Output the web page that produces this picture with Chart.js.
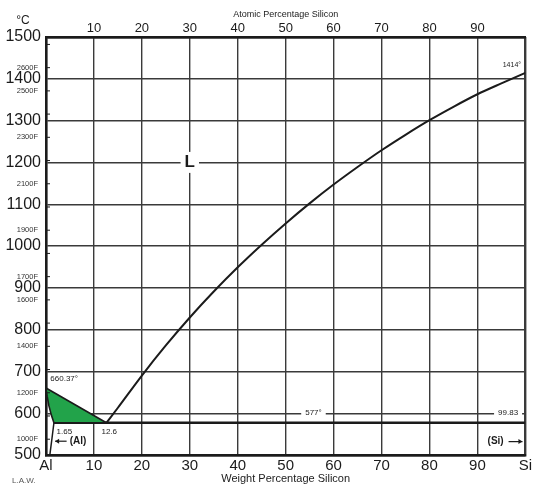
<!DOCTYPE html>
<html>
<head>
<meta charset="utf-8">
<script src="https://cdn.jsdelivr.net/npm/chart.js@4.4.1/dist/chart.umd.min.js"></script>
<style>
  html, body { margin: 0; padding: 0; background: #fff; }
  #wrap { width: 534px; height: 488px; }
</style>
</head>
<body>
<div id="wrap"><canvas id="phase"></canvas></div>
<script>
// Al-Si phase diagram

/* =========================
   DATA
========================= */

// liquidus, eutectic point up to pure Si
const liquidusWt = [12.6, 15, 20, 25, 30, 35, 40, 45, 50, 55, 60, 65, 70, 75, 80, 85, 90, 95, 100];
const liquidusT  = [577, 613, 690, 762, 829, 891, 949, 1003, 1054, 1102, 1147, 1189, 1229, 1266, 1301, 1333, 1363, 1389, 1414];

// (Al) solidus, melting point of Al down to max solubility
const solidusWt = [0, 0.25, 0.6, 1.1, 1.65];
const solidusT  = [660.37, 640, 618, 596, 577];

// (Al) solvus
const solvusWt = [1.65, 1.25, 0.8];
const solvusT  = [577, 540, 500];

// eutectic isotherm
const eutecticWt = [1.65, 100];
const eutecticT  = [577, 577];

// axes
const tempTicks   = [500, 600, 700, 800, 900, 1000, 1100, 1200, 1300, 1400, 1500];
const weightTicks = [0, 10, 20, 30, 40, 50, 60, 70, 80, 90, 100];
const atomicTicks = [10, 20, 30, 40, 50, 60, 70, 80, 90];
const fahrenheitTicks  = [1000, 1100, 1200, 1300, 1400, 1500, 1600, 1700, 1800, 1900, 2000, 2100, 2200, 2300, 2400, 2500, 2600, 2700];
const fahrenheitLabels = [1000, 1200, 1400, 1600, 1700, 1900, 2100, 2300, 2500, 2600];

/* =========================
   HELPERS
========================= */

const pts = (xs, ys) => xs.map((x, i) => ({ x: x, y: ys[i] }));

// L + (Al) region: solidus -> eutectic point -> liquidus back to Al
const twoPhase = [{ x: 0, y: 660.37 }, { x: 12.6, y: 577 }]
  .concat(pts(solidusWt, solidusT).reverse());

const INK = "#1b1b1b";
const GRID = "#3a3a3a";
const FONT = "'Liberation Sans', Arial, sans-serif";

/* =========================
   ANNOTATIONS
========================= */

const notes = [
  { text: "660.37°", x: 0.9, y: 682, size: 8, align: "left" },
  { text: "1.65", x: 2.2, y: 556, size: 8, align: "left" },
  { text: "12.6", x: 13.2, y: 556, size: 8, align: "center" },
  { text: "(Al)", x: 6.7, y: 533, size: 10, align: "center", bold: true },
  { text: "577°", x: 55.8, y: 600, size: 8, align: "center", box: true },
  { text: "99.83", x: 96.4, y: 600, size: 8, align: "center", box: true },
  { text: "(Si)", x: 93.8, y: 532, size: 10, align: "center", bold: true },
  { text: "1414°", x: 97.2, y: 1432, size: 7, align: "center" },
  { text: "L", x: 30, y: 1200, size: 17, align: "center", bold: true, box: true }
];

const extras = {
  id: "extras",
  afterDatasetsDraw(chart) {
    const { ctx, chartArea } = chart;
    const xs = chart.scales.x, ys = chart.scales.y;
    ctx.save();

    // fahrenheit ticks on the left axis
    ctx.strokeStyle = INK;
    ctx.lineWidth = 1;
    ctx.fillStyle = "#333";
    ctx.font = "7.5px " + FONT;
    ctx.textAlign = "right";
    ctx.textBaseline = "middle";
    fahrenheitTicks.forEach(f => {
      const c = (f - 32) * 5 / 9;
      if (c < 500 || c > 1500) return;
      const py = ys.getPixelForValue(c);
      ctx.beginPath();
      ctx.moveTo(chartArea.left, py);
      ctx.lineTo(chartArea.left + 4, py);
      ctx.stroke();
      if (fahrenheitLabels.includes(f)) ctx.fillText(f + "F", chartArea.left - 8, py);
    });

    // labels on the diagram
    notes.forEach(n => {
      const px = xs.getPixelForValue(n.x), py = ys.getPixelForValue(n.y);
      ctx.font = (n.bold ? "bold " : "") + n.size + "px " + FONT;
      ctx.textAlign = n.align;
      const w = ctx.measureText(n.text).width;
      if (n.box) {
        ctx.fillStyle = "#fff";
        const x0 = n.align === "center" ? px - w / 2 : px;
        ctx.fillRect(x0 - 4, py - n.size / 2 - 2, w + 8, n.size + 4);
      }
      ctx.fillStyle = INK;
      ctx.fillText(n.text, px, py);
    });

    // arrows next to (Al) and (Si)
    ctx.lineWidth = 1.2;
    const arrow = (x1, x2, yv) => {
      const a = xs.getPixelForValue(x1), b = xs.getPixelForValue(x2), py = ys.getPixelForValue(yv);
      const dir = Math.sign(b - a);
      ctx.beginPath();
      ctx.moveTo(a, py); ctx.lineTo(b, py); ctx.stroke();
      ctx.beginPath();
      ctx.moveTo(b, py); ctx.lineTo(b - dir * 4, py - 2.5); ctx.lineTo(b - dir * 4, py + 2.5);
      ctx.closePath(); ctx.fill();
    };
    arrow(4.3, 1.9, 533);
    arrow(96.5, 99.4, 532);

    // unit and credit
    ctx.font = "12px " + FONT;
    ctx.textAlign = "center";
    ctx.fillText("°C", 23, 21);
    ctx.font = "8px " + FONT;
    ctx.textAlign = "left";
    ctx.fillStyle = "#555";
    ctx.fillText("L.A.W.", 12, 481);
    ctx.restore();
  }
};

/* =========================
   CHART
========================= */

const edgeWidth = (ctx, lo, hi) =>
  (ctx.tick && (ctx.tick.value === lo || ctx.tick.value === hi)) ? 2.4 : 1.4;

new Chart(document.getElementById("phase"), {
  type: "scatter",
  data: {
    datasets: [
      {
        data: twoPhase, showLine: true, fill: "shape",
        backgroundColor: "#22a34a", borderColor: INK, borderWidth: 1.6, pointRadius: 0
      },
      {
        data: pts(liquidusWt, liquidusT), showLine: true, cubicInterpolationMode: "monotone",
        borderColor: INK, borderWidth: 2, pointRadius: 0
      },
      {
        data: pts(eutecticWt, eutecticT), showLine: true,
        borderColor: INK, borderWidth: 2.6, pointRadius: 0
      },
      {
        data: pts(solvusWt, solvusT), showLine: true, cubicInterpolationMode: "monotone",
        borderColor: INK, borderWidth: 1.5, pointRadius: 0
      }
    ]
  },
  options: {
    responsive: true,
    maintainAspectRatio: false,
    animation: false,
    layout: { padding: { left: 0, right: 6, top: 0, bottom: 0 } },
    plugins: { legend: { display: false }, tooltip: { enabled: false } },
    scales: {
      x: {
        type: "linear", position: "bottom", min: 0, max: 100,
        afterBuildTicks: s => { s.ticks = weightTicks.map(v => ({ value: v })); },
        afterFit: s => { s.height = 33; },
        ticks: {
          autoSkip: false, maxRotation: 0, padding: 2, color: INK,
          font: { family: FONT, size: 15 },
          callback: v => v === 0 ? "Al" : v === 100 ? "Si" : String(v)
        },
        grid: { color: GRID, lineWidth: c => edgeWidth(c, 0, 100), drawTicks: false },
        border: { color: INK, width: 2.4 },
        title: {
          display: true, text: "Weight Percentage Silicon", color: INK,
          font: { family: FONT, size: 11 }, padding: { top: 0, bottom: 2 }
        }
      },
      x2: {
        type: "linear", position: "top", min: 0, max: 100,
        afterBuildTicks: s => { s.ticks = atomicTicks.map(v => ({ value: v })); },
        afterFit: s => { s.height = 37; },
        ticks: {
          autoSkip: false, maxRotation: 0, padding: 1, color: INK,
          font: { family: FONT, size: 13 },
          callback: v => String(v)
        },
        grid: { display: false, drawTicks: false },
        border: { color: INK, width: 2.4 },
        title: {
          display: true, text: "Atomic Percentage Silicon", color: INK,
          font: { family: FONT, size: 9 }, padding: { top: 9, bottom: 0 }
        }
      },
      y: {
        type: "linear", min: 500, max: 1500,
        afterBuildTicks: s => { s.ticks = tempTicks.map(v => ({ value: v })); },
        afterFit: s => { s.width = 46; },
        ticks: {
          autoSkip: false, padding: 5, color: INK,
          font: { family: FONT, size: 16 },
          callback: v => String(v)
        },
        grid: { color: GRID, lineWidth: c => edgeWidth(c, 500, 1500), drawTicks: false },
        border: { color: INK, width: 2.4 }
      }
    }
  },
  plugins: [extras]
});
</script>
</body>
</html>
